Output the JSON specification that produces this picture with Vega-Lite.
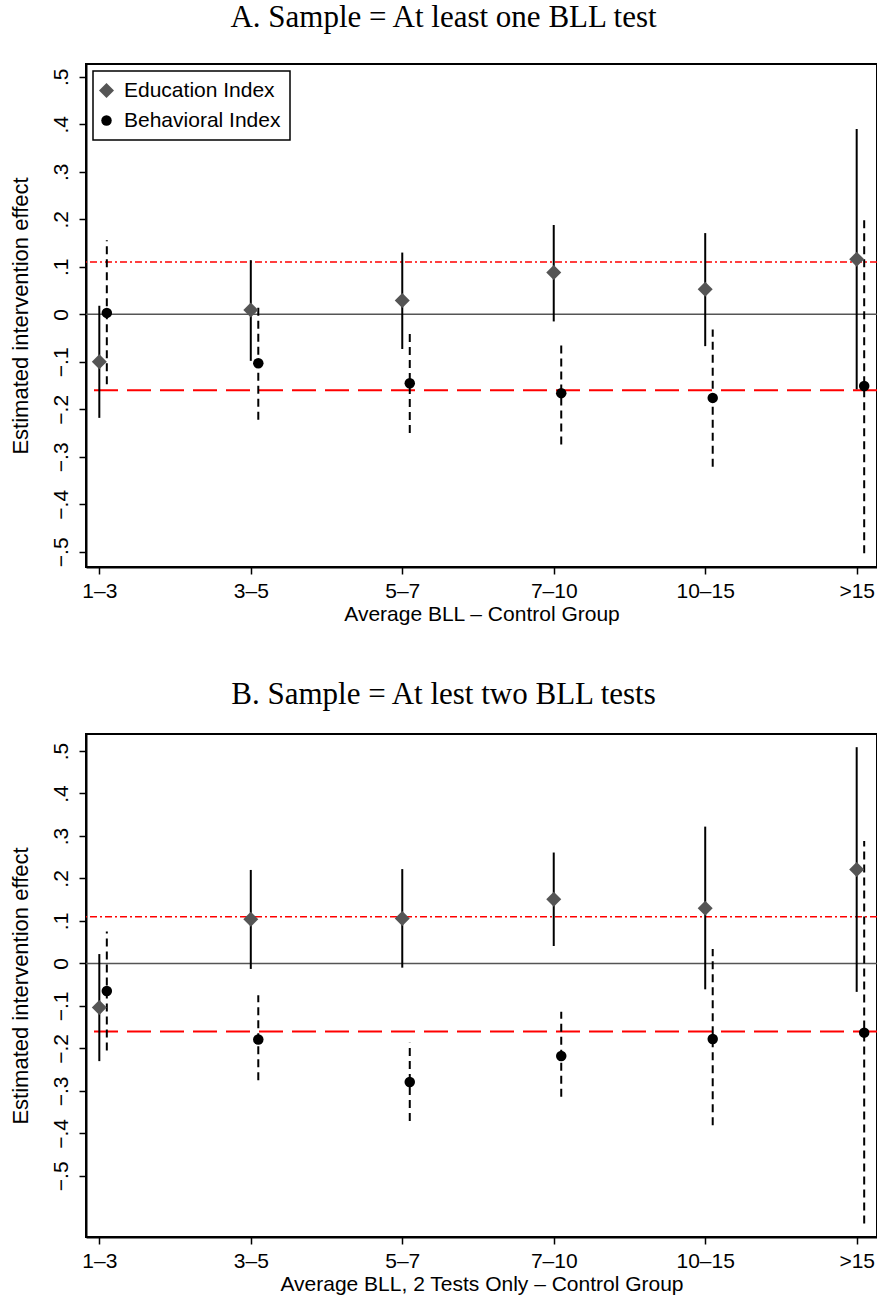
{
  "$schema": "https://vega.github.io/schema/vega-lite/v6.json",
  "padding": {"left": 8, "top": 1, "right": 0, "bottom": 0},
  "background": "white",
  "spacing": 53,
  "datasets": {
    "a": [
      {"bll": "1–3", "series": "Education Index", "est": -0.100, "lo": -0.218, "hi": 0.018},
      {"bll": "3–5", "series": "Education Index", "est": 0.009, "lo": -0.098, "hi": 0.114},
      {"bll": "5–7", "series": "Education Index", "est": 0.029, "lo": -0.073, "hi": 0.130},
      {"bll": "7–10", "series": "Education Index", "est": 0.088, "lo": -0.015, "hi": 0.188},
      {"bll": "10–15", "series": "Education Index", "est": 0.053, "lo": -0.067, "hi": 0.171},
      {"bll": ">15", "series": "Education Index", "est": 0.116, "lo": -0.158, "hi": 0.390},
      {"bll": "1–3", "series": "Behavioral Index", "est": 0.003, "lo": -0.147, "hi": 0.156},
      {"bll": "3–5", "series": "Behavioral Index", "est": -0.103, "lo": -0.222, "hi": 0.016},
      {"bll": "5–7", "series": "Behavioral Index", "est": -0.145, "lo": -0.250, "hi": -0.040},
      {"bll": "7–10", "series": "Behavioral Index", "est": -0.166, "lo": -0.274, "hi": -0.058},
      {"bll": "10–15", "series": "Behavioral Index", "est": -0.176, "lo": -0.321, "hi": -0.032},
      {"bll": ">15", "series": "Behavioral Index", "est": -0.151, "lo": -0.503, "hi": 0.202}
    ],
    "b": [
      {"bll": "1–3", "series": "Education Index", "est": -0.104, "lo": -0.230, "hi": 0.022},
      {"bll": "3–5", "series": "Education Index", "est": 0.104, "lo": -0.013, "hi": 0.220},
      {"bll": "5–7", "series": "Education Index", "est": 0.106, "lo": -0.010, "hi": 0.222},
      {"bll": "7–10", "series": "Education Index", "est": 0.151, "lo": 0.041, "hi": 0.261},
      {"bll": "10–15", "series": "Education Index", "est": 0.130, "lo": -0.061, "hi": 0.322},
      {"bll": ">15", "series": "Education Index", "est": 0.221, "lo": -0.067, "hi": 0.509},
      {"bll": "1–3", "series": "Behavioral Index", "est": -0.065, "lo": -0.205, "hi": 0.075},
      {"bll": "3–5", "series": "Behavioral Index", "est": -0.179, "lo": -0.275, "hi": -0.075},
      {"bll": "5–7", "series": "Behavioral Index", "est": -0.279, "lo": -0.371, "hi": -0.187},
      {"bll": "7–10", "series": "Behavioral Index", "est": -0.218, "lo": -0.314, "hi": -0.114},
      {"bll": "10–15", "series": "Behavioral Index", "est": -0.178, "lo": -0.381, "hi": 0.034},
      {"bll": ">15", "series": "Behavioral Index", "est": -0.163, "lo": -0.612, "hi": 0.288}
    ],
    "refs": [
      {"value": 0.11, "kind": "dashdot"},
      {"value": -0.16, "kind": "longdash"},
      {"value": 0, "kind": "zero"}
    ]
  },
  "vconcat": [
    {
      "title": {"text": "A. Sample = At least one BLL test"},
      "width": 791,
      "height": 503,
      "data": {"name": "a"},
      "encoding": {
        "x": {
          "field": "bll", "type": "ordinal",
          "sort": ["1–3", "3–5", "5–7", "7–10", "10–15", ">15"],
          "scale": {"type": "point", "padding": 0.111, "align": 0.396},
          "axis": {"title": "Average BLL – Control Group"}
        }
      },
      "layer": [
        {
          "data": {"name": "refs"},
          "transform": [{"filter": "datum.kind == 'zero'"}],
          "mark": {"type": "rule", "color": "#555555", "strokeWidth": 1.5},
          "encoding": {"x": null, "y": {"field": "value", "type": "quantitative", "title": "Estimated intervention effect", "axis": {"values": [-0.5, -0.4, -0.3, -0.2, -0.1, 0, 0.1, 0.2, 0.3, 0.4, 0.5]}, "scale": {"domain": [-0.532, 0.527], "nice": false, "zero": false}}}
        },
        {
          "data": {"name": "refs"},
          "transform": [{"filter": "datum.kind == 'dashdot'"}],
          "mark": {"type": "rule", "color": "#ff0000", "strokeWidth": 1.5, "strokeDash": [7, 3, 2, 3]},
          "encoding": {"x": null, "y": {"field": "value", "type": "quantitative", "title": "Estimated intervention effect", "axis": {"values": [-0.5, -0.4, -0.3, -0.2, -0.1, 0, 0.1, 0.2, 0.3, 0.4, 0.5]}, "scale": {"domain": [-0.532, 0.527], "nice": false, "zero": false}}}
        },
        {
          "data": {"name": "refs"},
          "transform": [{"filter": "datum.kind == 'longdash'"}],
          "mark": {"type": "rule", "color": "#ff0000", "strokeWidth": 2, "strokeDash": [24, 9]},
          "encoding": {"x": null, "y": {"field": "value", "type": "quantitative", "title": "Estimated intervention effect", "axis": {"values": [-0.5, -0.4, -0.3, -0.2, -0.1, 0, 0.1, 0.2, 0.3, 0.4, 0.5]}, "scale": {"domain": [-0.532, 0.527], "nice": false, "zero": false}}}
        },
        {
          "transform": [{"filter": "datum.series == 'Education Index'"}],
          "mark": {"type": "rule", "color": "black", "strokeWidth": 2},
          "encoding": {
            "xOffset": {"field": "series", "type": "nominal", "scale": {"type": "point", "domain": ["Education Index", "Behavioral Index"], "range": [0, 7.5], "padding": 0}},
            "y": {"field": "lo", "type": "quantitative", "title": "Estimated intervention effect", "axis": {"values": [-0.5, -0.4, -0.3, -0.2, -0.1, 0, 0.1, 0.2, 0.3, 0.4, 0.5]}, "scale": {"domain": [-0.532, 0.527], "nice": false, "zero": false}},
            "y2": {"field": "hi"}
          }
        },
        {
          "transform": [{"filter": "datum.series == 'Behavioral Index'"}],
          "mark": {"type": "rule", "color": "black", "strokeWidth": 2, "strokeDash": [8, 5]},
          "encoding": {
            "xOffset": {"field": "series", "type": "nominal", "scale": {"type": "point", "domain": ["Education Index", "Behavioral Index"], "range": [0, 7.5], "padding": 0}},
            "y": {"field": "lo", "type": "quantitative", "title": "Estimated intervention effect", "axis": {"values": [-0.5, -0.4, -0.3, -0.2, -0.1, 0, 0.1, 0.2, 0.3, 0.4, 0.5]}, "scale": {"domain": [-0.532, 0.527], "nice": false, "zero": false}},
            "y2": {"field": "hi"}
          }
        },
        {
          "mark": {"type": "point", "filled": true, "opacity": 1, "strokeWidth": 0},
          "encoding": {
            "xOffset": {"field": "series", "type": "nominal", "scale": {"type": "point", "domain": ["Education Index", "Behavioral Index"], "range": [0, 7.5], "padding": 0}},
            "y": {"field": "est", "type": "quantitative", "title": "Estimated intervention effect", "axis": {"values": [-0.5, -0.4, -0.3, -0.2, -0.1, 0, 0.1, 0.2, 0.3, 0.4, 0.5]}, "scale": {"domain": [-0.532, 0.527], "nice": false, "zero": false}},
            "shape": {"field": "series", "type": "nominal", "scale": {"domain": ["Education Index", "Behavioral Index"], "range": ["diamond", "circle"]}, "legend": {"title": null}},
            "color": {"field": "series", "type": "nominal", "scale": {"domain": ["Education Index", "Behavioral Index"], "range": ["#555555", "#000000"]}, "legend": {"title": null}},
            "size": {"field": "series", "type": "nominal", "scale": {"domain": ["Education Index", "Behavioral Index"], "range": [225, 110]}, "legend": {"title": null}}
          }
        }
      ]
    },
    {
      "title": {"text": "B. Sample = At lest two BLL tests", "offset": 23},
      "width": 791,
      "height": 503,
      "data": {"name": "b"},
      "encoding": {
        "x": {
          "field": "bll", "type": "ordinal",
          "sort": ["1–3", "3–5", "5–7", "7–10", "10–15", ">15"],
          "scale": {"type": "point", "padding": 0.111, "align": 0.396},
          "axis": {"title": "Average BLL, 2 Tests Only – Control Group"}
        }
      },
      "layer": [
        {
          "data": {"name": "refs"},
          "transform": [{"filter": "datum.kind == 'zero'"}],
          "mark": {"type": "rule", "color": "#555555", "strokeWidth": 1.5},
          "encoding": {"x": null, "y": {"field": "value", "type": "quantitative", "title": "Estimated intervention effect", "axis": {"values": [-0.5, -0.4, -0.3, -0.2, -0.1, 0, 0.1, 0.2, 0.3, 0.4, 0.5]}, "scale": {"domain": [-0.644, 0.54], "nice": false, "zero": false}}}
        },
        {
          "data": {"name": "refs"},
          "transform": [{"filter": "datum.kind == 'dashdot'"}],
          "mark": {"type": "rule", "color": "#ff0000", "strokeWidth": 1.5, "strokeDash": [7, 3, 2, 3]},
          "encoding": {"x": null, "y": {"field": "value", "type": "quantitative", "title": "Estimated intervention effect", "axis": {"values": [-0.5, -0.4, -0.3, -0.2, -0.1, 0, 0.1, 0.2, 0.3, 0.4, 0.5]}, "scale": {"domain": [-0.644, 0.54], "nice": false, "zero": false}}}
        },
        {
          "data": {"name": "refs"},
          "transform": [{"filter": "datum.kind == 'longdash'"}],
          "mark": {"type": "rule", "color": "#ff0000", "strokeWidth": 2, "strokeDash": [24, 9]},
          "encoding": {"x": null, "y": {"field": "value", "type": "quantitative", "title": "Estimated intervention effect", "axis": {"values": [-0.5, -0.4, -0.3, -0.2, -0.1, 0, 0.1, 0.2, 0.3, 0.4, 0.5]}, "scale": {"domain": [-0.644, 0.54], "nice": false, "zero": false}}}
        },
        {
          "transform": [{"filter": "datum.series == 'Education Index'"}],
          "mark": {"type": "rule", "color": "black", "strokeWidth": 2},
          "encoding": {
            "xOffset": {"field": "series", "type": "nominal", "scale": {"type": "point", "domain": ["Education Index", "Behavioral Index"], "range": [0, 7.5], "padding": 0}},
            "y": {"field": "lo", "type": "quantitative", "title": "Estimated intervention effect", "axis": {"values": [-0.5, -0.4, -0.3, -0.2, -0.1, 0, 0.1, 0.2, 0.3, 0.4, 0.5]}, "scale": {"domain": [-0.644, 0.54], "nice": false, "zero": false}},
            "y2": {"field": "hi"}
          }
        },
        {
          "transform": [{"filter": "datum.series == 'Behavioral Index'"}],
          "mark": {"type": "rule", "color": "black", "strokeWidth": 2, "strokeDash": [8, 5]},
          "encoding": {
            "xOffset": {"field": "series", "type": "nominal", "scale": {"type": "point", "domain": ["Education Index", "Behavioral Index"], "range": [0, 7.5], "padding": 0}},
            "y": {"field": "lo", "type": "quantitative", "title": "Estimated intervention effect", "axis": {"values": [-0.5, -0.4, -0.3, -0.2, -0.1, 0, 0.1, 0.2, 0.3, 0.4, 0.5]}, "scale": {"domain": [-0.644, 0.54], "nice": false, "zero": false}},
            "y2": {"field": "hi"}
          }
        },
        {
          "mark": {"type": "point", "filled": true, "opacity": 1, "strokeWidth": 0},
          "encoding": {
            "xOffset": {"field": "series", "type": "nominal", "scale": {"type": "point", "domain": ["Education Index", "Behavioral Index"], "range": [0, 7.5], "padding": 0}},
            "y": {"field": "est", "type": "quantitative", "title": "Estimated intervention effect", "axis": {"values": [-0.5, -0.4, -0.3, -0.2, -0.1, 0, 0.1, 0.2, 0.3, 0.4, 0.5]}, "scale": {"domain": [-0.644, 0.54], "nice": false, "zero": false}},
            "shape": {"field": "series", "type": "nominal", "scale": {"domain": ["Education Index", "Behavioral Index"], "range": ["diamond", "circle"]}, "legend": {"title": null}},
            "color": {"field": "series", "type": "nominal", "scale": {"domain": ["Education Index", "Behavioral Index"], "range": ["#555555", "#000000"]}, "legend": {"title": null}},
            "size": {"field": "series", "type": "nominal", "scale": {"domain": ["Education Index", "Behavioral Index"], "range": [225, 110]}, "legend": {"title": null}}
          }
        }
      ]
    }
  ],
  "resolve": {"scale": {"y": "independent"}},
  "config": {
    "view": {"stroke": "black", "strokeWidth": 2},
    "title": {"font": "Liberation Serif", "fontSize": 31, "fontWeight": "normal", "color": "black", "anchor": "middle", "frame": "bounds", "baseline": "alphabetic", "offset": 30},
    "axis": {"labelFont": "Liberation Sans", "titleFont": "Liberation Sans", "labelFontSize": 21, "titleFontSize": 21, "titleFontWeight": "normal", "labelColor": "black", "titleColor": "black", "domainColor": "black", "domainWidth": 2, "tickColor": "black", "tickWidth": 1.5, "tickSize": 7, "grid": false},
    "axisX": {"labelAngle": 0, "labelPadding": 6, "titlePadding": 2},
    "axisY": {"labelAngle": -90, "labelAlign": "center", "labelBaseline": "alphabetic", "labelPadding": 12, "titlePadding": 18, "titleFontSize": 22, "labelExpr": "datum.value == 0 ? '0' : replace(replace(format(datum.value, '.1f'), '0.', '.'), '-', '−')"},
    "legend": {"orient": "top-left", "offset": 7, "strokeColor": "black", "strokeWidth": 1.5, "fillColor": "white", "padding": 9, "labelFont": "Liberation Sans", "labelFontSize": 21, "labelColor": "black", "labelOffset": 7, "symbolOffset": -6, "rowPadding": 8, "symbolStrokeWidth": 0, "cornerRadius": 0}
  }
}
